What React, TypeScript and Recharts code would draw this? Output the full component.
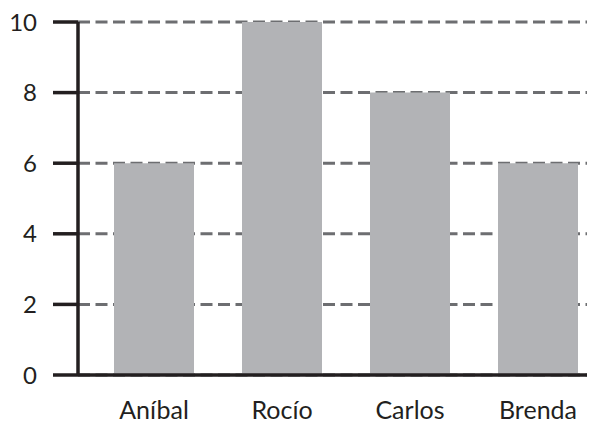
import React from 'react';
import { BarChart, Bar, XAxis, YAxis, CartesianGrid } from 'recharts';

const categories = ['Aníbal', 'Rocío', 'Carlos', 'Brenda'];
const values = [6, 10, 8, 6];
const yTicks = [0, 2, 4, 6, 8, 10];

const data = categories.map((name, i) => ({ name, value: values[i] }));

const ink = '#231f20';

export default function App() {
  return (
    <div style={{ width: 587, height: 416, overflow: 'hidden', background: '#fff' }}>
      <BarChart
        width={594}
        height={416}
        data={data}
        margin={{ top: 14, right: 0, bottom: 0, left: 0 }}
        barSize={80}
      >
        <XAxis
          dataKey="name"
          height={49}
          padding={{ left: 12, right: 0 }}
          tickSize={0}
          tickMargin={26}
          axisLine={{ stroke: ink, strokeWidth: 3.5 }}
          tickLine={false}
          tick={{ fill: ink, fontSize: 25, fontFamily: 'Lato' }}
        />
        <YAxis
          width={70}
          domain={[0, 10]}
          ticks={yTicks}
          interval={0}
          tickSize={25}
          tickMargin={16}
          axisLine={{ stroke: ink, strokeWidth: 3.5 }}
          tickLine={{ stroke: ink, strokeWidth: 3.5 }}
          tick={{ fill: ink, fontSize: 24, fontFamily: 'Lato' }}
        />
        <Bar dataKey="value" fill="#b2b3b6" isAnimationActive={false} />
        <CartesianGrid
          vertical={false}
          stroke="#6d6e71"
          strokeWidth={3}
          strokeDasharray="12 5.5"
        />
      </BarChart>
    </div>
  );
}
